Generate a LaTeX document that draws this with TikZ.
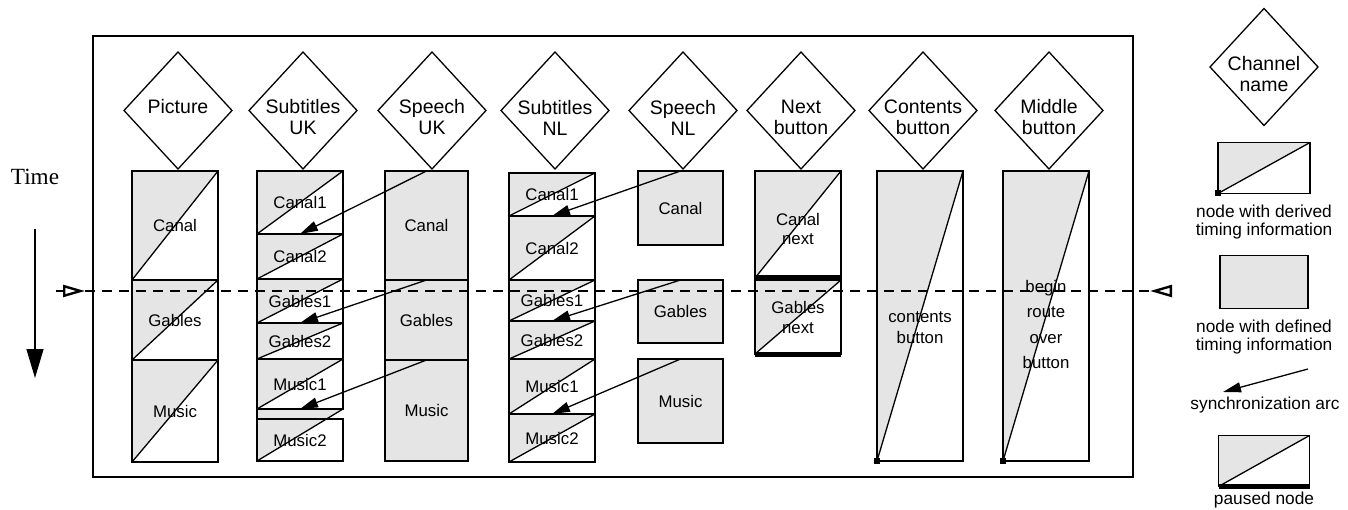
\documentclass[tikz,border=0pt]{standalone}
\usepackage{fontspec}
\setmainfont{Liberation Sans}
\newfontfamily\timefont{Liberation Serif}
\usepackage{tikz}
\usetikzlibrary{shapes.geometric,arrows.meta,positioning}
\definecolor{LightGrey}{RGB}{229,229,229}
\newcommand{\chfont}{\fontsize{19.5}{21}\selectfont}
\newcommand{\boxfont}{\fontsize{16.8}{19}\selectfont}
\newcommand{\legfont}{\fontsize{17.3}{17.5}\selectfont}
\tikzstyle{channel} = [diamond, draw, minimum width=108pt, minimum height=117pt, inner sep=0pt, outer sep=0pt]
\tikzstyle{chname}  = [font=\chfont, align=center, inner sep=0pt]
\tikzstyle{boxtext} = [font=\boxfont, align=center, inner sep=0pt]
\tikzstyle{lgtext}  = [font=\legfont, align=center, inner sep=0pt]
\tikzstyle{defined} = [rectangle, draw, fill=LightGrey, minimum width=86pt, inner sep=0pt, outer sep=0pt, font=\boxfont, align=center]
\tikzstyle{plainbox} = [defined, fill=none]
\tikzstyle{derived} = [defined, fill=none, path picture={
    \fill[LightGrey] (path picture bounding box.south west) -- (path picture bounding box.north west) -- (path picture bounding box.north east) -- cycle;
    \draw (path picture bounding box.south west) -- (path picture bounding box.north east);}]
\tikzstyle{sync}     = [draw, -{Triangle[length=18pt,width=10pt]}]
\tikzstyle{timeline} = [draw, -{Triangle[length=29pt,width=17pt]}]
\tikzstyle{nowline}  = [draw, dash pattern=on 10pt off 7pt]
\tikzstyle{nowtip}   = [draw, -{Triangle[open,length=22pt,width=12pt,line width=2.4pt]}]
\tikzstyle{paused}   = [line width=5pt]

\begin{document}
\begin{tikzpicture}[x=1pt, y=-1pt, line width=1.3pt]
    \useasboundingbox (0,0) rectangle (1348,510);

    % time axis and current time
    \node (time) [font=\timefont\fontsize{23.2}{25}\selectfont, inner sep=0pt] at (35,177) {Time};
    \coordinate (tTop) at (35,229);
    \coordinate (tBot) at (35,378);
    \path [timeline] (tTop) -- (tBot);

    \draw (93,36) rectangle (1133,477);

    % channels
    \node (chPic)   [channel, label={[chname, yshift=3.5pt]center:Picture}] at (178,110.5) {};
    \node (chSubUK) [channel, label={[chname, yshift=-7pt]center:{Subtitles\\UK}}] at (303,110.5) {};
    \node (chSpUK)  [channel, label={[chname, yshift=-7pt]center:{Speech\\UK}}] at (432,110.5) {};
    \node (chSubNL) [channel, label={[chname, yshift=-7pt]center:{Subtitles\\NL}}] at (555,110.5) {};
    \node (chSpNL)  [channel, label={[chname, yshift=-7pt]center:{Speech\\NL}}] at (683,110.5) {};
    \node (chNext)  [channel, label={[chname, yshift=-7pt]center:{Next\\button}}] at (801,110.5) {};
    \node (chCont)  [channel, label={[chname, yshift=-7pt]center:{Contents\\button}}] at (923,110.5) {};
    \node (chMid)   [channel, label={[chname, yshift=-7pt]center:{Middle\\button}}] at (1049,110.5) {};

    % Picture
    \node (piC) [derived, minimum height=109pt, below=2pt of chPic, xshift=-3pt] {Canal};
    \node (piG) [derived, minimum height=80pt, below=0pt of piC] {Gables};
    \node (piM) [derived, minimum height=102pt, below=0pt of piG] {Music};

    % Subtitles UK
    \node (suC1) [derived, minimum height=63pt, below=2pt of chSubUK, xshift=-3pt] {Canal1};
    \node (suC2) [derived, minimum height=45pt, below=0pt of suC1] {Canal2};
    \node (suG1) [derived, minimum height=44pt, below=0pt of suC2] {Gables1};
    \node (suG2) [derived, minimum height=36pt, below=0pt of suG1] {Gables2};
    \node (suM1) [derived, minimum height=50pt, below=0pt of suG2] {Music1};
    \fill [LightGrey] (suM1.south west) -- (suM1.south east) -- ([yshift=-52pt]suM1.south west) -- cycle;
    \node (suM2) [plainbox, minimum height=42pt, below=10pt of suM1] {Music2};
    \draw (suM1.south east) -- (suM1.south west) -- (suM2.north west);
    \draw (suM2.south west) -- (suM1.south east);

    % Speech UK
    \node (spUKc) [defined, minimum width=83pt, minimum height=109pt, below=2pt of chSpUK, xshift=-5.5pt] {Canal};
    \node (spUKg) [defined, minimum width=83pt, minimum height=80pt, below=0pt of spUKc] {Gables};
    \node (spUKm) [defined, minimum width=83pt, minimum height=101pt, below=0pt of spUKg] {Music};

    % Subtitles NL
    \node (snC1) [derived, minimum height=43pt, below=4pt of chSubNL, xshift=-3pt] {Canal1};
    \node (snC2) [derived, minimum height=64pt, below=0pt of snC1] {Canal2};
    \node (snG1) [derived, minimum height=41pt, below=0pt of snC2] {Gables1};
    \node (snG2) [derived, minimum height=38pt, below=0pt of snG1] {Gables2};
    \node (snM1) [derived, minimum height=55pt, below=0pt of snG2] {Music1};
    \node (snM2) [derived, minimum height=48pt, below=0pt of snM1] {Music2};

    % Speech NL
    \node (spNLc) [defined, minimum width=85pt, minimum height=74pt, below=2pt of chSpNL, xshift=-2.5pt] {Canal};
    \node (spNLg) [defined, minimum width=85pt, minimum height=63pt, below=35pt of spNLc] {Gables};
    \node (spNLm) [defined, minimum width=85pt, minimum height=84pt, below=16pt of spNLg] {Music};

    % Next button
    \node (nxC) [derived, minimum height=107pt, below=2pt of chNext, xshift=-3pt,
                 label={[boxtext, yshift=-4pt]center:{Canal\\next}}] {};
    \node (nxG) [derived, minimum height=74pt, below=2pt of nxC,
                 label={[boxtext, font=\fontsize{16.8}{20}\selectfont]center:{Gables\\next}}] {};
    \draw [paused] (nxC.south west) -- (nxC.south east);
    \draw [paused] (nxG.south west) -- (nxG.south east);

    % Contents and middle button
    \node (cbB) [derived, minimum height=290pt, below=2pt of chCont, xshift=-3pt,
                 label={[boxtext, font=\fontsize{16.8}{21}\selectfont, yshift=-11.5pt]center:{contents\\button}}] {};
    \node (mbB) [derived, minimum height=290pt, below=2pt of chMid, xshift=-3pt,
                 label={[boxtext, font=\fontsize{16.8}{25.5}\selectfont, yshift=-8.5pt]center:{begin\\route\\over\\button}}] {};
    \fill ([shift={(-3pt,-3pt)}]cbB.south west) rectangle +(6pt,6pt);
    \fill ([shift={(-3pt,-3pt)}]mbB.south west) rectangle +(6pt,6pt);

    % synchronization arcs
    \path [sync] (spUKc.north) -- (suC2.north);
    \path [sync] (spUKg.north) -- (suG2.north);
    \path [sync] (spUKm.north) -- (suM1.south);
    \path [sync] (spNLc.north) -- (snC2.north);
    \path [sync] (spNLg.north) -- (snG2.north);
    \path [sync] (spNLm.north) -- (snM2.north);

    % current time
    \coordinate (nowL) at (56,291);
    \coordinate (nowLtip) at (85,291);
    \coordinate (nowR) at (1172,291);
    \coordinate (nowRtip) at (1150,291);
    \path [nowline] (nowLtip) -- (nowRtip);
    \path [nowtip] (nowL) -- (nowLtip);
    \path [nowtip] (nowR) -- (nowRtip);

    % legend
    \node (lgCh)   [channel, label={[chname, yshift=-7pt]center:{Channel\\name}}] at (1264,67) {};
    \node (lgDer)  [derived, minimum width=92pt, minimum height=51pt, below=17pt of lgCh] {};
    \fill ([shift={(-3pt,-3pt)}]lgDer.south west) rectangle +(6pt,6pt);
    \node (lgDerT) [lgtext, below=11pt of lgDer] {node with derived\\timing information};
    \node (lgDef)  [defined, minimum width=88pt, minimum height=53pt, below=62pt of lgDer] {};
    \node (lgDefT) [lgtext, below=11pt of lgDef] {node with defined\\timing information};
    \coordinate (lgArcA) at (1308,369);
    \coordinate (lgArcB) at (1223,392);
    \path [sync] (lgArcA) -- (lgArcB);
    \node (lgArcT) [lgtext] at (1265,405) {synchronization arc};
    \node (lgPau)  [derived, minimum width=91pt, minimum height=51pt, below=127pt of lgDef] {};
    \draw [paused] (lgPau.south west) -- (lgPau.south east);
    \node (lgPauT) [lgtext, below=5pt of lgPau] {paused node};
\end{tikzpicture}
\end{document}
